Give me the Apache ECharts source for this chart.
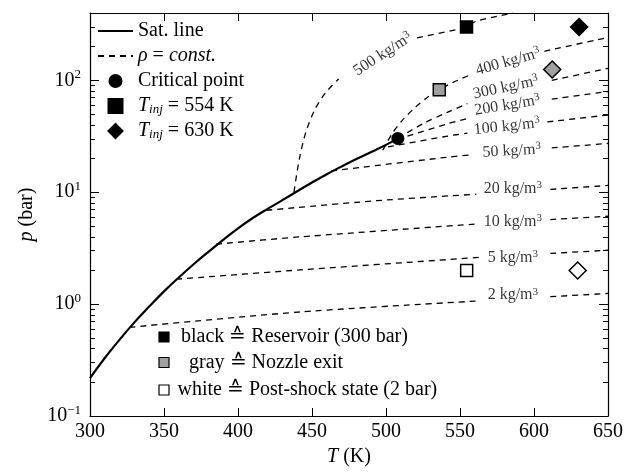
<!DOCTYPE html>
<html>
<head>
<meta charset="utf-8">
<script src="https://cdn.jsdelivr.net/npm/echarts@6/dist/echarts.min.js"></script>
<style>
  html, body { margin: 0; padding: 0; background: #fff; }
  #chart { width: 627px; height: 475px; }
</style>
</head>
<body>
<div id="chart"></div>
<script>
// saturation line (T in K, p in bar)
const satT = [300, 310, 320, 330, 340, 350, 360, 370, 380, 390, 400, 410, 420, 430, 440, 450, 460, 470, 480, 490, 500, 508];
const satP = [0.218, 0.33, 0.482, 0.687, 0.95, 1.30, 1.73, 2.27, 2.93, 3.75, 4.75, 5.88, 7.1, 8.5, 10.2, 12.2, 14.5, 17.0, 19.8, 22.9, 26.5, 30.3];

// isochores, [T, p]; null = gap where the label sits
const densities = [2, 5, 10, 20, 50, 100, 200, 300, 400, 500];
const rho2 = [[326.7, 0.62], [441.7, 0.85], [564, 1.07], null, [611, 1.165], [650, 1.245]];
const rho5 = [[358.3, 1.67], [441.7, 2.02], [564, 2.62], null, [611, 2.84], [650, 3.03]];
const rho10 = [[385.3, 3.43], [441.7, 3.99], [561, 5.2], null, [611, 5.7], [650, 6.1]];
const rho20 = [[419.2, 6.9], [493.6, 8.4], [561, 9.6], null, [611, 10.6], [650, 11.5]];
const rho50 = [[463, 15.5], [541.8, 20.6], [558, 21.6], null, [612, 24.9], [650, 27.3]];
const rho100 = [[501.4, 25.4], [541.8, 31.8], [555, 33.7], null, [609, 42.5], [650, 49.0]];
const rho200 = [[507.5, 29.6], [541.8, 41], [556, 46], null, [612, 68], [650, 79.5]];
const rho300 = [[508, 30.3], [525, 41], [541.8, 52], [555, 62], null, [612, 100], [650, 128]];
const rho400 = [[497.8, 23.7], [503.9, 33], [510.7, 43.5], [519.5, 57], [527.6, 70], [536, 82.6], [545, 95.5], [558, 113.5], null, [607, 182], [650, 242]];
const rho500 = [[437.8, 10], [441.5, 20], [446, 35], [452, 55], [459, 77], [468, 103], null, [521, 240], [548, 285], [554.4, 300], [561, 338], [586, 400]];
const isochores = [rho2, rho5, rho10, rho20, rho50, rho100, rho200, rho300, rho400, rho500];

// critical point
const critT = [508];
const critP = [30.3];

// states: reservoir, nozzle exit, post-shock
const states = ['Reservoir', 'Nozzle exit', 'Post-shock'];
const inj554T = [554.4, 536, 554.5];
const inj554P = [300, 82.6, 2.0];
const inj630T = [630.5, 612.3, 629.5];
const inj630P = [300, 125, 2.0];

// ---- layout / style ----
const FONT = "'Liberation Serif', 'DejaVu Serif', serif";
const stateFill = { 'Reservoir': '#000', 'Nozzle exit': '#a0a0a0', 'Post-shock': '#fff' };
// label anchor [T, p, rotate] for each density
const labelSpot = [[585.7, 1.20, 0], [585.7, 2.60, 0], [585.7, 5.43, 0], [585.7, 10.8, 0], [585, 23.4, 3],
  [581.7, 38.7, 6], [582, 59.8, 9], [581, 86.3, 12], [582.4, 146.5, 16], [497.8, 171, 33]];

// minor ticks 2..9 per decade, placed on a helper axis in log10 units
const minorTicks = [];
for (let n = -1; n <= 2; n++) {
  for (let k = 2; k <= 9; k++) {
    const v = n + Math.log10(k);
    if (v <= Math.log10(400) + 1e-9) minorTicks.push(v);
  }
}

const myChart = echarts.init(document.getElementById('chart'));

const series = [];
series.push({
  name: 'Sat. line',
  type: 'line',
  data: satT.map((t, i) => [t, satP[i]]),
  symbol: 'none',
  smooth: 0.4,
  lineStyle: { color: '#000', width: 2.2 },
  itemStyle: { color: 'rgba(0,0,0,0)' },
  z: 3
});

isochores.forEach((pts) => {
  let seg = [];
  const flush = () => {
    if (seg.length) {
      series.push({
        name: 'ρ = const.',
        type: 'line',
        data: seg,
        symbol: 'none',
        smooth: 0.3,
        lineStyle: { color: '#000', width: 1.3, type: [6, 5] },
        itemStyle: { color: 'rgba(0,0,0,0)' },
        z: 2
      });
    }
    seg = [];
  };
  pts.forEach((p) => { if (p === null) flush(); else seg.push(p); });
  flush();
});

series.push({
  name: 'density labels',
  type: 'scatter',
  symbolSize: 1,
  itemStyle: { color: 'rgba(0,0,0,0)' },
  data: densities.map((d, i) => ({
    value: [labelSpot[i][0], labelSpot[i][1]],
    name: String(d),
    label: { rotate: labelSpot[i][2] }
  })),
  label: {
    show: true,
    position: 'inside',
    formatter: (p) => '{n|' + p.name + ' kg/m}{e|3}',
    rich: {
      n: { fontFamily: FONT, fontSize: 16, color: '#000', lineHeight: 18 },
      e: { fontFamily: FONT, fontSize: 11, color: '#000', verticalAlign: 'top', lineHeight: 11 }
    }
  },
  z: 4
});

series.push({
  name: 'Critical point',
  type: 'scatter',
  symbol: 'circle',
  symbolSize: 13,
  data: critT.map((t, i) => [t, critP[i]]),
  itemStyle: { color: '#000', opacity: 1 },
  z: 5
});

series.push({
  name: 'T_inj = 554 K',
  type: 'scatter',
  symbol: 'rect',
  symbolSize: 12,
  itemStyle: { color: '#000', borderColor: '#000', borderWidth: 1.5, opacity: 1 },
  data: inj554T.map((t, i) => ({ value: [t, inj554P[i]], itemStyle: { color: stateFill[states[i]] } })),
  z: 5
});

series.push({
  name: 'T_inj = 630 K',
  type: 'scatter',
  symbol: 'diamond',
  symbolSize: 17,
  itemStyle: { color: '#000', borderColor: '#000', borderWidth: 1.5, opacity: 1 },
  data: inj630T.map((t, i) => ({ value: [t, inj630P[i]], itemStyle: { color: stateFill[states[i]] } })),
  z: 5
});

const isDecade = (v) => Math.abs(Math.log10(v) - Math.round(Math.log10(v))) < 1e-6;

const xBase = {
  type: 'value', min: 300, max: 650, interval: 50,
  axisLine: { show: true, onZero: false, lineStyle: { color: '#000', width: 1.2 } },
  axisTick: { show: true, inside: true, length: 8, lineStyle: { color: '#000', width: 1 } },
  splitLine: { show: false }
};
const yLogBase = {
  type: 'log', logBase: 10, min: 0.1, max: 400,
  axisLine: { show: true, onZero: false, lineStyle: { color: '#000', width: 1.2 } },
  axisTick: { show: true, inside: true, length: 9, lineStyle: { color: '#000', width: 1 } },
  splitLine: { show: false },
  minorTick: { show: false }
};
const yMinorBase = {
  type: 'value', min: -1, max: Math.log10(400),
  axisLine: { show: false, onZero: false },
  axisLabel: { show: false },
  axisTick: { show: true, inside: true, length: 5, customValues: minorTicks, lineStyle: { color: '#000', width: 1 } },
  splitLine: { show: false }
};

const hiddenDot = { opacity: 0, color: 'rgba(0,0,0,0)', borderWidth: 0 };

const option = {
  animation: false,
  backgroundColor: '#fff',
  grid: { left: 90, right: 19, top: 13, bottom: 59, outerBoundsMode: 'none' },
  xAxis: [
    Object.assign({}, xBase, {
      position: 'bottom',
      name: '{i|T} (K)',
      nameLocation: 'middle',
      nameGap: 30,
      nameTextStyle: { fontFamily: FONT, fontSize: 20, color: '#000',
        rich: { i: { fontFamily: FONT, fontSize: 20, fontStyle: 'italic', color: '#000' } } },
      axisLabel: { show: true, margin: 6, fontFamily: FONT, fontSize: 20, color: '#000' }
    }),
    Object.assign({}, xBase, { position: 'top', axisLabel: { show: false } })
  ],
  yAxis: [
    Object.assign({}, yLogBase, {
      position: 'left',
      name: '{i|p} (bar)',
      nameLocation: 'middle',
      nameRotate: 90,
      nameGap: 52,
      nameTextStyle: { fontFamily: FONT, fontSize: 20, color: '#000',
        rich: { i: { fontFamily: FONT, fontSize: 20, fontStyle: 'italic', color: '#000' } } },
      axisLabel: {
        show: true, margin: 9, color: '#000',
        formatter: (v) => {
          if (!isDecade(v)) return '';
          const e = Math.round(Math.log10(v));
          return '{b|10}{e|' + (e < 0 ? '\u2212' + (-e) : e) + '}';
        },
        rich: {
          b: { fontFamily: FONT, fontSize: 20, color: '#000', lineHeight: 24 },
          e: { fontFamily: FONT, fontSize: 13, color: '#000', verticalAlign: 'top', lineHeight: 13 }
        }
      }
    }),
    Object.assign({}, yMinorBase, { position: 'left' }),
    Object.assign({}, yLogBase, { position: 'right', axisLabel: { show: false } }),
    Object.assign({}, yMinorBase, { position: 'right' })
  ],
  legend: {
    show: true,
    orient: 'vertical',
    left: 92,
    top: 16,
    itemWidth: 35,
    itemHeight: 14,
    itemGap: 5,
    selectedMode: false,
    data: [
      { name: 'Sat. line', itemStyle: hiddenDot },
      { name: 'ρ = const.', itemStyle: hiddenDot },
      { name: 'Critical point' },
      { name: 'T_inj = 554 K', icon: 'path://M0,0H10V10H0Z' },
      { name: 'T_inj = 630 K', icon: 'path://M5,0L10,5L5,10L0,5Z' }
    ],
    formatter: (name) => {
      if (name === 'ρ = const.') return '{i|ρ} = {i|const.}';
      if (name === 'T_inj = 554 K') return '{i|T}{s|inj} = 554 K';
      if (name === 'T_inj = 630 K') return '{i|T}{s|inj} = 630 K';
      return name;
    },
    textStyle: {
      fontFamily: FONT, fontSize: 20, color: '#000', lineHeight: 20,
      rich: {
        i: { fontFamily: FONT, fontSize: 20, fontStyle: 'italic', color: '#000', lineHeight: 20 },
        s: { fontFamily: FONT, fontSize: 13, fontStyle: 'italic', color: '#000', verticalAlign: 'bottom', lineHeight: 13 }
      }
    }
  },
  graphic: [
    { type: 'rect', shape: { x: 159, y: 332, width: 10, height: 10 }, style: { fill: '#000', stroke: '#000', lineWidth: 1.2 } },
    { type: 'rect', shape: { x: 159, y: 357.5, width: 10, height: 10 }, style: { fill: '#a0a0a0', stroke: '#000', lineWidth: 1.2 } },
    { type: 'rect', shape: { x: 159, y: 385, width: 10, height: 10 }, style: { fill: '#fff', stroke: '#000', lineWidth: 1.2 } },
    { type: 'text', x: 181, y: 337, style: { text: 'black \u2259 Reservoir (300 bar)', font: '20px ' + FONT, fill: '#000', verticalAlign: 'middle' } },
    { type: 'text', x: 189, y: 362.5, style: { text: 'gray \u2259 Nozzle exit', font: '20px ' + FONT, fill: '#000', verticalAlign: 'middle' } },
    { type: 'text', x: 177.5, y: 390, style: { text: 'white \u2259 Post-shock state (2 bar)', font: '20px ' + FONT, fill: '#000', verticalAlign: 'middle' } }
  ],
  series: series
};

myChart.setOption(option);
</script>
</body>
</html>
